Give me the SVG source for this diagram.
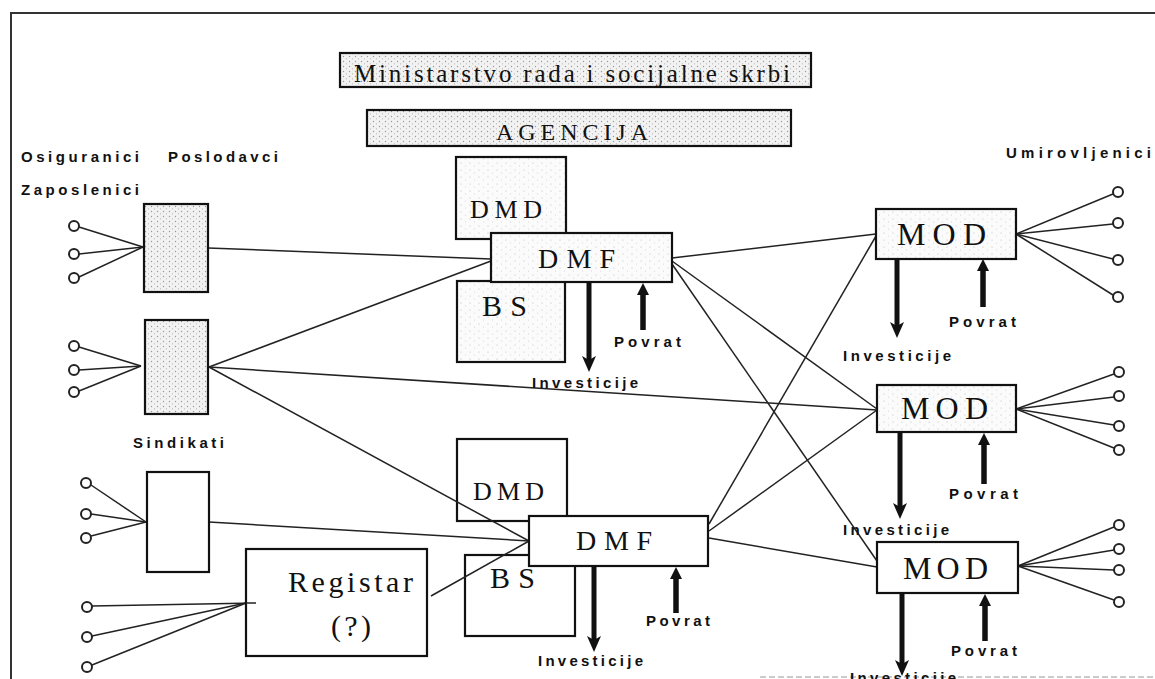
<svg xmlns="http://www.w3.org/2000/svg" width="1155" height="679" viewBox="0 0 1155 679">
<defs>
<pattern id="stip" width="9" height="7" patternUnits="userSpaceOnUse">
<rect width="9" height="7" fill="#fbfbfb"/>
<circle cx="2" cy="2" r="0.6" fill="#bbb"/>
<circle cx="6.5" cy="5" r="0.5" fill="#ccc"/>
</pattern>
<pattern id="stipH" width="6" height="5" patternUnits="userSpaceOnUse">
<rect width="6" height="5" fill="#f2f2f2"/>
<circle cx="1.5" cy="1.5" r="0.7" fill="#999"/>
<circle cx="4.5" cy="3.8" r="0.6" fill="#b0b0b0"/>
</pattern>
<marker id="down" markerUnits="userSpaceOnUse" markerWidth="16" markerHeight="14" viewBox="0 0 16 14" refX="6" refY="7" orient="auto">
<path d="M0,0 L16,7 L0,14 L4,7 z" fill="#111"/>
</marker>
<marker id="up" markerUnits="userSpaceOnUse" markerWidth="12" markerHeight="12" viewBox="0 0 12 12" refX="5" refY="6" orient="auto">
<path d="M0,0 L12,6 L0,12 z" fill="#111"/>
</marker>
</defs>
<style>
.frame{fill:none;stroke:#333;stroke-width:2}
.box{fill:#fff;stroke:#111;stroke-width:2.2}
.st{fill:url(#stip)}
.sth{fill:url(#stipH)}
.ln{stroke:#222;stroke-width:1.5;fill:none}
.term{fill:#fff;stroke:#222;stroke-width:2}
.inv{stroke:#111;stroke-width:5;marker-end:url(#down)}
.pov{stroke:#111;stroke-width:5.5;marker-end:url(#up)}
.serif{font-family:"Liberation Serif","Times New Roman",serif;fill:#111}
.lbl{font-family:"Liberation Sans",Arial,sans-serif;font-weight:bold;font-size:15px;fill:#111}
.flow{font-family:"Liberation Sans",Arial,sans-serif;font-weight:bold;font-size:15px;fill:#111}
</style>
<rect width="1155" height="679" fill="#fff"/>
<path class="frame" d="M11,679 L11,13 L1155,13"/>
<line x1="760" y1="677" x2="1155" y2="677" stroke="#bbb" stroke-width="1.5" stroke-dasharray="6 3"/>

<g id="ministarstvo">
<rect class="box sth" x="340" y="53" width="471" height="34"/>
<text class="serif" x="354" y="82" font-size="25" textLength="436" lengthAdjust="spacing">Ministarstvo rada i socijalne skrbi</text>
</g>
<g id="agencija">
<rect class="box sth" x="367" y="110" width="424" height="36"/>
<text class="serif" x="496" y="140" font-size="24" textLength="152" lengthAdjust="spacing">AGENCIJA</text>
</g>

<g id="labels">
<text class="lbl" x="21" y="162" textLength="118" lengthAdjust="spacing">Osiguranici</text>
<text class="lbl" x="168" y="162" textLength="110" lengthAdjust="spacing">Poslodavci</text>
<text class="lbl" x="21" y="195" textLength="118" lengthAdjust="spacing">Zaposlenici</text>
<text class="lbl" x="133" y="448" textLength="91" lengthAdjust="spacing">Sindikati</text>
<text class="lbl" x="1006" y="158" textLength="145" lengthAdjust="spacing">Umirovljenici</text>
</g>

<g id="dmd1"><rect class="box st" x="456" y="157" width="110" height="82"/><text class="serif" x="470" y="218" font-size="26" textLength="72" lengthAdjust="spacing">DMD</text></g>
<g id="bs1"><rect class="box st" x="457" y="281" width="108" height="81"/><text class="serif" x="482" y="316" font-size="30" textLength="45" lengthAdjust="spacing">BS</text></g>
<g id="dmd2"><rect class="box" x="457" y="439" width="110" height="82"/><text class="serif" x="473" y="500" font-size="26" textLength="71" lengthAdjust="spacing">DMD</text></g>
<g id="bs2"><rect class="box" x="465" y="555" width="110" height="81"/><text class="serif" x="490" y="588" font-size="30" textLength="45" lengthAdjust="spacing">BS</text></g>

<g id="connectors">
<g id="fans">
<line class="ln" x1="79" y1="227" x2="143" y2="247"/>
<line class="ln" x1="79" y1="254" x2="143" y2="247"/>
<line class="ln" x1="79" y1="277" x2="143" y2="247"/>
<line class="ln" x1="79" y1="347" x2="141" y2="366"/>
<line class="ln" x1="79" y1="370" x2="141" y2="366"/>
<line class="ln" x1="79" y1="391" x2="141" y2="366"/>
<line class="ln" x1="91" y1="485" x2="146" y2="522"/>
<line class="ln" x1="91" y1="514" x2="146" y2="522"/>
<line class="ln" x1="91" y1="536" x2="146" y2="522"/>
<line class="ln" x1="92" y1="606" x2="256" y2="603"/>
<line class="ln" x1="92" y1="636" x2="246" y2="603"/>
<line class="ln" x1="92" y1="665" x2="246" y2="603"/>
<line class="ln" x1="1016" y1="234" x2="1113" y2="194"/>
<line class="ln" x1="1016" y1="234" x2="1113" y2="224"/>
<line class="ln" x1="1016" y1="234" x2="1113" y2="259"/>
<line class="ln" x1="1016" y1="234" x2="1113" y2="295"/>
<line class="ln" x1="1016" y1="409" x2="1114" y2="374"/>
<line class="ln" x1="1016" y1="409" x2="1114" y2="397"/>
<line class="ln" x1="1016" y1="409" x2="1114" y2="425"/>
<line class="ln" x1="1016" y1="409" x2="1114" y2="448"/>
<line class="ln" x1="1018" y1="566" x2="1114" y2="527"/>
<line class="ln" x1="1018" y1="566" x2="1114" y2="550"/>
<line class="ln" x1="1018" y1="566" x2="1114" y2="570"/>
<line class="ln" x1="1018" y1="566" x2="1114" y2="600"/>
</g>
<line class="ln" x1="208" y1="248" x2="491" y2="259"/>
<line class="ln" x1="209" y1="367" x2="491" y2="261"/>
<line class="ln" x1="209" y1="367" x2="877" y2="410"/>
<line class="ln" x1="209" y1="367" x2="529" y2="541"/>
<line class="ln" x1="209" y1="522" x2="529" y2="541"/>
<line class="ln" x1="431" y1="596" x2="529" y2="541"/>
<line class="ln" x1="672" y1="258" x2="876" y2="234"/>
<line class="ln" x1="672" y1="261" x2="877" y2="409"/>
<line class="ln" x1="672" y1="264" x2="877" y2="561"/>
<line class="ln" x1="709" y1="524" x2="876" y2="236"/>
<line class="ln" x1="709" y1="531" x2="877" y2="410"/>
<line class="ln" x1="709" y1="538" x2="877" y2="567"/>
<g id="flows">
<line class="inv" x1="589" y1="282" x2="589" y2="362"/>
<line class="inv" x1="594" y1="566" x2="594" y2="642"/>
<line class="inv" x1="897" y1="259" x2="897" y2="328"/>
<line class="inv" x1="900" y1="432" x2="900" y2="509"/>
<line class="inv" x1="902" y1="593" x2="902" y2="666"/>
<line class="pov" x1="643" y1="330" x2="643" y2="290"/>
<line class="pov" x1="676" y1="613" x2="676" y2="574"/>
<line class="pov" x1="983" y1="307" x2="983" y2="266"/>
<line class="pov" x1="984" y1="484" x2="984" y2="440"/>
<line class="pov" x1="985" y1="641" x2="985" y2="601"/>
</g>
</g>

<g id="terminals">
<circle class="term" cx="74" cy="226" r="5"/><circle class="term" cx="74" cy="254" r="5"/><circle class="term" cx="74" cy="278" r="5"/>
<circle class="term" cx="74" cy="346" r="5"/><circle class="term" cx="74" cy="370" r="5"/><circle class="term" cx="74" cy="392" r="5"/>
<circle class="term" cx="86" cy="483" r="5"/><circle class="term" cx="86" cy="514" r="5"/><circle class="term" cx="86" cy="538" r="5"/>
<circle class="term" cx="87" cy="607" r="5"/><circle class="term" cx="87" cy="637" r="5"/><circle class="term" cx="87" cy="667" r="5"/>
<circle class="term" cx="1118" cy="192" r="5"/><circle class="term" cx="1118" cy="223" r="5"/><circle class="term" cx="1118" cy="260" r="5"/><circle class="term" cx="1118" cy="297" r="5"/>
<circle class="term" cx="1119" cy="372" r="5"/><circle class="term" cx="1119" cy="396" r="5"/><circle class="term" cx="1119" cy="426" r="5"/><circle class="term" cx="1119" cy="450" r="5"/>
<circle class="term" cx="1119" cy="525" r="5"/><circle class="term" cx="1119" cy="549" r="5"/><circle class="term" cx="1119" cy="570" r="5"/><circle class="term" cx="1119" cy="602" r="5"/>
</g>

<g id="poslodavci-box"><rect class="box sth" x="144" y="204" width="64" height="88"/></g>
<g id="zaposlenici-box"><rect class="box sth" x="145" y="320" width="63" height="94"/></g>
<g id="sindikati-box"><rect class="box" x="147" y="472" width="62" height="100"/></g>
<g id="registar"><rect class="box" x="246" y="549" width="181" height="107"/>
<line class="ln" x1="246" y1="603" x2="256" y2="603"/>
<text class="serif" x="288" y="592" font-size="30" textLength="125" lengthAdjust="spacing">Registar</text>
<text class="serif" x="331" y="636" font-size="30" textLength="40" lengthAdjust="spacing">(?)</text></g>

<g id="dmf1"><rect class="box st" x="491" y="233" width="181" height="49"/><text class="serif" x="538" y="268" font-size="28" textLength="77" lengthAdjust="spacing">DMF</text></g>
<g id="dmf2"><rect class="box" x="529" y="516" width="179" height="50"/><text class="serif" x="576" y="550" font-size="28" textLength="76" lengthAdjust="spacing">DMF</text></g>
<g id="mod1"><rect class="box st" x="876" y="209" width="140" height="50"/><text class="serif" x="897" y="245" font-size="32" textLength="89" lengthAdjust="spacing">MOD</text></g>
<g id="mod2"><rect class="box st" x="877" y="385" width="139" height="47"/><text class="serif" x="901" y="419" font-size="32" textLength="87" lengthAdjust="spacing">MOD</text></g>
<g id="mod3"><rect class="box" x="877" y="542" width="141" height="51"/><text class="serif" x="903" y="579" font-size="32" textLength="85" lengthAdjust="spacing">MOD</text></g>

<g id="flow-labels">
<text class="flow" x="532" y="388" textLength="106" lengthAdjust="spacing">Investicije</text>
<text class="flow" x="614" y="347" textLength="67" lengthAdjust="spacing">Povrat</text>
<text class="flow" x="538" y="666" textLength="105" lengthAdjust="spacing">Investicije</text>
<text class="flow" x="646" y="626" textLength="64" lengthAdjust="spacing">Povrat</text>
<text class="flow" x="843" y="361" textLength="108" lengthAdjust="spacing">Investicije</text>
<text class="flow" x="949" y="327" textLength="67" lengthAdjust="spacing">Povrat</text>
<text class="flow" x="843" y="535" textLength="106" lengthAdjust="spacing">Investicije</text>
<text class="flow" x="949" y="499" textLength="69" lengthAdjust="spacing">Povrat</text>
<text class="flow" x="850" y="683" textLength="106" lengthAdjust="spacing">Investicije</text>
<text class="flow" x="951" y="656" textLength="66" lengthAdjust="spacing">Povrat</text>
</g>
</svg>
